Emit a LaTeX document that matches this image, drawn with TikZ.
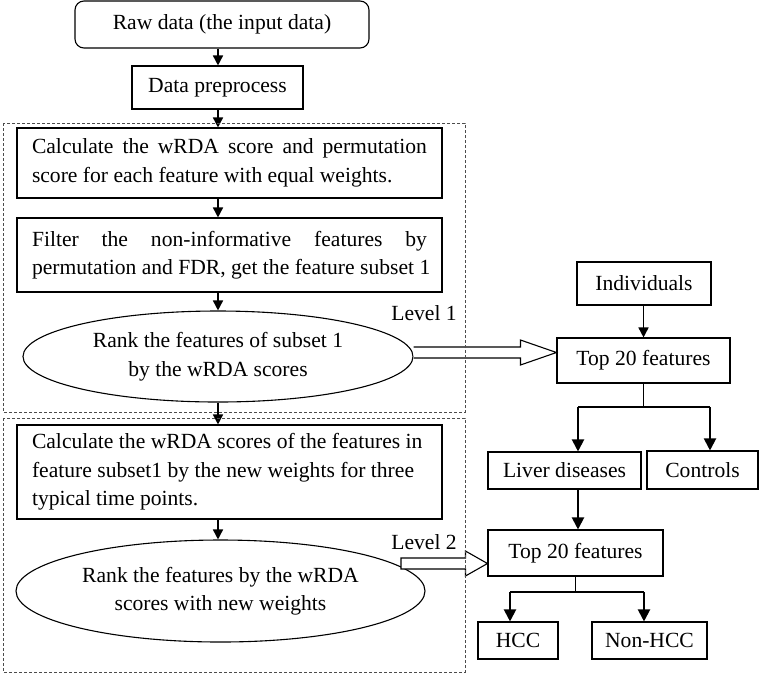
\documentclass[tikz,border=0pt]{standalone}
\usepackage{fontspec}
\setmainfont{Liberation Serif}
\usetikzlibrary{shapes.geometric,arrows.meta,calc}
\newcommand{\myspreadline}[1]{\hbox to 395pt{#1}}
\newcommand{\myleftline}[1]{\hbox to 395pt{#1\hss}}
\begin{document}
\begin{tikzpicture}[x=1pt,y=-1pt,
  every node/.style={font=\fontsize{21.6}{28.5}\selectfont},
  box/.style={draw,line width=1.1pt,inner sep=0pt,align=center},
  ell/.style={draw,ellipse,line width=1.1pt,inner sep=0pt,align=center},
  arr/.style={line width=1.6pt,-{Triangle[length=10pt,width=10pt]}},
  tarr/.style={line width=2pt,-{Triangle[length=12pt,width=12pt]}},
  dbox/.style={draw=black!70,line width=0.8pt,dash pattern=on 3pt off 2pt},
  hollow/.style={draw,line width=1.1pt,fill=white,line join=miter}
]
\useasboundingbox (0,0) rectangle (759,673);

% main column
\node[box,rounded corners=9pt,minimum width=294pt,minimum height=47pt] (raw) at (222,24.5) {Raw data (the input data)};
\node[box,minimum width=171pt,minimum height=43pt] (pre) at (217.5,87.5) {Data preprocess};
\node[box,minimum width=425pt,minimum height=70pt,align=left] (calc1) at (229.5,163)
  {\myspreadline{Calculate\hfil the\hfil wRDA\hfil score\hfil and\hfil permutation}\\
   \myleftline{score for each feature with equal weights.}};
\node[box,minimum width=425pt,minimum height=74pt,align=left] (filt) at (229.5,255)
  {\myspreadline{Filter\hfil the\hfil non-informative\hfil features\hfil by}\\
   \myleftline{permutation and FDR, get the feature subset 1}};
\node[ell,minimum width=390pt,minimum height=91pt] (e1) at (218,356.5) {Rank the features of subset 1\\by the wRDA scores};
\node[box,minimum width=425pt,minimum height=94pt,align=left] (calc2) at (229.5,472)
  {\myleftline{Calculate the wRDA scores of the features in}\\
   \myleftline{feature subset1 by the new weights for three}\\
   \myleftline{typical time points.}};
\node[ell,minimum width=409pt,minimum height=102pt] (e2) at (220.5,591) {Rank the features by the wRDA\\scores with new weights};

\coordinate (mx) at (218,0);
\draw[arr] (raw.south -| mx) -- (pre.north -| mx);
\draw[arr] (pre.south -| mx) -- (calc1.north -| mx);
\draw[arr] (calc1.south -| mx) -- (filt.north -| mx);
\draw[arr] (filt.south -| mx) -- (e1.north -| mx);
\draw[arr] (e1.south -| mx) -- (calc2.north -| mx);
\draw[arr] (calc2.south -| mx) -- (e2.north -| mx);

% right side
\node[box,minimum width=134pt,minimum height=43pt] (ind) at (644,283.5) {Individuals};
\node[box,minimum width=173pt,minimum height=45pt] (t1) at (643.5,360.5) {Top 20 features};
\node[box,minimum width=153pt,minimum height=37pt] (liver) at (564.5,470.5) {Liver diseases};
\node[box,minimum width=111pt,minimum height=38pt] (ctrl) at (702.5,470) {Controls};
\node[box,minimum width=175pt,minimum height=46pt] (t2) at (575.5,553) {Top 20 features};
\node[box,minimum width=80pt,minimum height=37pt] (hcc) at (518,640.5) {HCC};
\node[box,minimum width=115pt,minimum height=37pt] (nhcc) at (649.5,640.5) {Non-HCC};

\draw[arr] (ind.south -| t1) -- (t1.north);
\coordinate (j1) at (643.5,407);
\coordinate (jl) at (578,407);
\coordinate (jr) at (710,407);
\draw[line width=1pt] (t1.south) -- (j1);
\draw[line width=2pt] (jl) -- (jr);
\draw[tarr] (jl) -- (jl |- liver.north);
\draw[tarr] (jr) -- (jr |- ctrl.north);
\draw[tarr] (jl |- liver.south) -- (jl |- t2.north);
\coordinate (j2) at (575.5,592);
\coordinate (kl) at (510,592);
\coordinate (kr) at (644,592);
\draw[line width=1pt] (t2.south) -- (j2);
\draw[line width=2pt] (kl) -- (kr);
\draw[tarr] (kl) -- (kl |- hcc.north);
\draw[tarr] (kr) -- (kr |- nhcc.north);

% hollow arrows
\coordinate (a1s) at (e1.east |- 0,352.5);
\coordinate (a1e) at (t1.west |- 0,352.5);
\draw[hollow] (a1s) ++(0,-5.5) -- ($(a1e)+(-36,-5.5)$) -- ($(a1e)+(-36,-12.5)$) -- (a1e)
  -- ($(a1e)+(-36,12.5)$) -- ($(a1e)+(-36,5.5)$) -- ($(a1s)+(0,5.5)$);
\coordinate (a2s) at (401,563.5);
\coordinate (a2e) at (t2.west |- 0,563.5);
\draw[hollow] (a2s) ++(0,-5.5) -- ($(a2e)+(-22,-5.5)$) -- ($(a2e)+(-22,-12.5)$) -- (a2e)
  -- ($(a2e)+(-22,12.5)$) -- ($(a2e)+(-22,5.5)$) -- ($(a2s)+(0,5.5)$) -- cycle;

\node (l1) at (424,313) {Level 1};
\node (l2) at (424,542) {Level 2};

% dashed frames
\draw[dbox] (3,123) rectangle (465,412);
\draw[dbox] (3,418) rectangle (465,672);
\end{tikzpicture}
\end{document}
